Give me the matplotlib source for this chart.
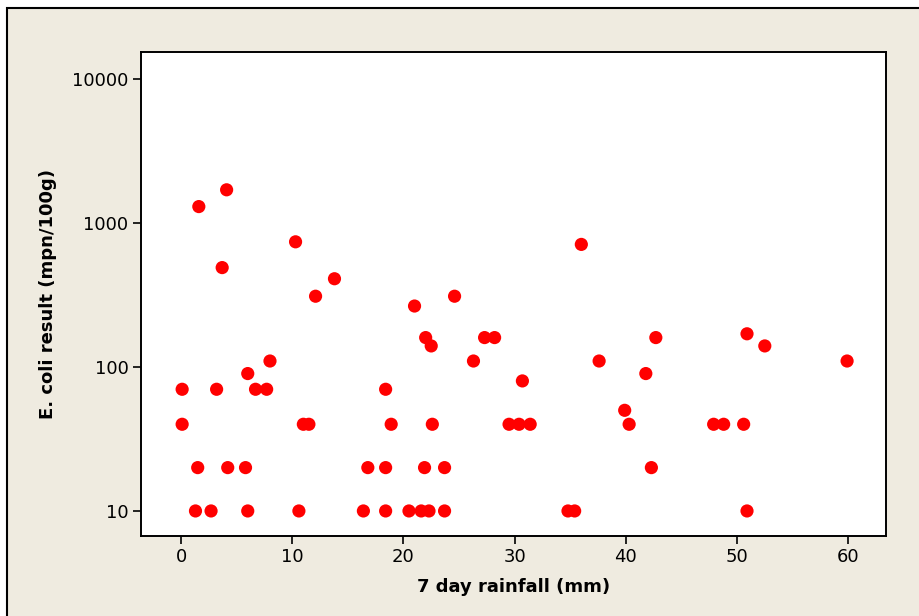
import matplotlib
matplotlib.use("Agg")
import matplotlib.pyplot as plt
from matplotlib.patches import Rectangle

# 7 day rainfall (mm) and E. coli result (mpn/100g)
rainfall = [0.1, 0.1, 1.5, 1.3, 1.6, 2.7, 3.2, 3.7, 4.1, 4.2,
            5.8, 6.0, 6.0, 6.7, 7.7, 8.0, 10.3, 10.6, 11.0, 11.5,
            12.1, 13.8, 16.4, 16.8, 18.4, 18.4, 18.4, 18.9, 20.5, 21.0,
            21.6, 21.9, 22.0, 22.3, 22.5, 22.6, 23.7, 23.7, 24.6, 26.3,
            27.3, 28.2, 29.5, 30.4, 30.7, 31.4, 34.8, 35.4, 36.0, 37.6,
            39.9, 40.3, 41.8, 42.3, 42.7, 47.9, 48.8, 50.6, 50.9, 50.9,
            52.5, 59.9]
ecoli = [70, 40, 20, 10, 1300, 10, 70, 490, 1700, 20,
         20, 90, 10, 70, 70, 110, 740, 10, 40, 40,
         310, 410, 10, 20, 70, 20, 10, 40, 10, 265,
         10, 20, 160, 10, 140, 40, 20, 10, 310, 110,
         160, 160, 40, 40, 80, 40, 10, 10, 710, 110,
         50, 40, 90, 20, 160, 40, 40, 40, 170, 10,
         140, 110]

x_ticks = [0, 10, 20, 30, 40, 50, 60]
y_ticks = [10, 100, 1000, 10000]
y_tick_labels = ["10", "100", "1000", "10000"]

fig = plt.figure(figsize=(9.2, 6.16), dpi=100)
fig.patch.set_facecolor("white")
# beige panel with black border (only top/left edges inside the image)
panel = Rectangle((7 / 920, -0.2), 1.5, 1 - 8 / 616 + 0.2,
                  transform=fig.transFigure, facecolor="#EFEBE0",
                  edgecolor="black", linewidth=1.5, zorder=-1)
fig.add_artist(panel)

ax = fig.add_axes([141 / 920, 80 / 616, 745 / 920, 484 / 616])
ax.set_zorder(2)
ax.set_facecolor("white")
ax.scatter(rainfall, ecoli, s=90, color="#FF0000", edgecolors="none", zorder=3)

ax.set_yscale("log")
ax.set_xlim(-3.6, 63.4)
ax.set_ylim(6.7, 15400)
ax.set_xticks(x_ticks)
ax.set_yticks(y_ticks)
ax.set_yticklabels(y_tick_labels)
ax.minorticks_off()

for side in ["top", "right", "left", "bottom"]:
    ax.spines[side].set_linewidth(1.4)
ax.tick_params(direction="out", length=6, width=1.2, labelsize=13, pad=3)

ax.set_xlabel("7 day rainfall (mm)", fontsize=13, fontweight="bold", labelpad=8)
ax.set_ylabel("E. coli result (mpn/100g)", fontsize=13, fontweight="bold", labelpad=11)

fig.savefig("out.png", dpi=100)
